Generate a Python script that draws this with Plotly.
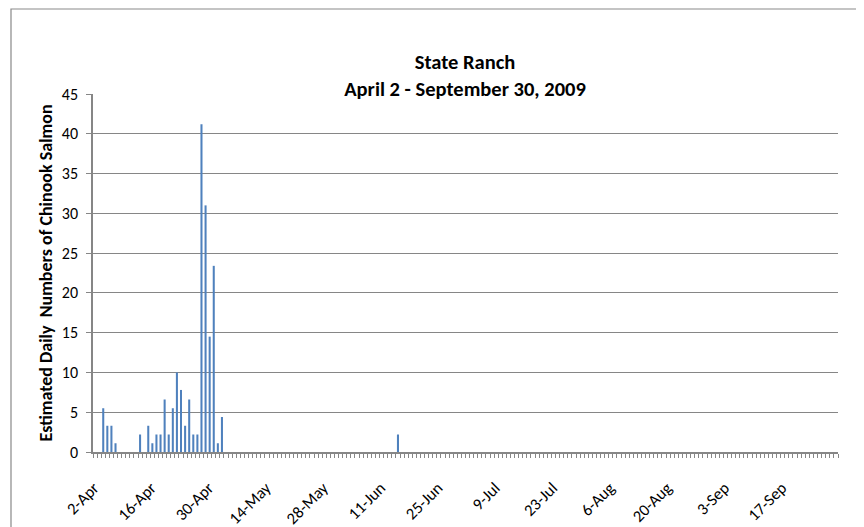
import plotly.graph_objects as go
import pandas as pd

# Data (date, estimated daily count)
dates = ["2009-04-04", "2009-04-05", "2009-04-06", "2009-04-07",
         "2009-04-13", "2009-04-15", "2009-04-16", "2009-04-17", "2009-04-18",
         "2009-04-19", "2009-04-20", "2009-04-21", "2009-04-22", "2009-04-23",
         "2009-04-24", "2009-04-25", "2009-04-26", "2009-04-27", "2009-04-28",
         "2009-04-29", "2009-04-30", "2009-05-01", "2009-05-02", "2009-05-03",
         "2009-06-15"]
counts = [5.5, 3.3, 3.3, 1.1,
          2.2, 3.3, 1.1, 2.2, 2.2,
          6.6, 2.2, 5.5, 10.0, 7.8,
          3.3, 6.6, 2.2, 2.2, 41.2,
          31.0, 14.5, 23.4, 1.1, 4.4,
          2.2]

label_dates = pd.date_range("2009-04-02", "2009-09-30", freq="14D")
label_text = [f"{d.day}-{d.strftime('%b')}" for d in label_dates]

FONT = "Carlito, Lato, sans-serif"
GRID = "#868686"
DAY_MS = 86400000

fig = go.Figure()
fig.add_trace(go.Bar(
    x=dates, y=counts,
    marker=dict(color="#4F81BD", line=dict(width=0)),
    width=0.5 * DAY_MS,
))

# The page places the figure 8px in from the window's top-left corner
OFF = 8
W, H = 864, 527
L, T = 93 - OFF, 94 - OFF
R = W - (838 - OFF)
B = H - (452 - OFF)
pw, ph = W - L - R, H - T - B

fig.update_layout(
    width=W, height=H,
    margin=dict(l=L, r=R, t=T, b=B),
    paper_bgcolor="white", plot_bgcolor="white",
    showlegend=False,
    font=dict(family=FONT, size=15, color="black"),
    title=dict(
        text="<b>State Ranch</b><br><b>April 2 - September 30, 2009</b>",
        x=(465 - OFF) / W, xref="container", xanchor="center",
        y=1 - 61 / H, yanchor="top",
        font=dict(family=FONT, size=20.5, color="black"),
    ),
    xaxis=dict(
        type="date", automargin=False,
        range=["2009-04-01 12:00", "2009-09-30 12:00"],
        tickmode="array", tickvals=list(label_dates), ticktext=label_text,
        tickangle=-45, ticks="", showgrid=False,
        showline=True, linecolor=GRID, linewidth=1.5,
        tickfont=dict(family=FONT, size=16.5),
        ticklabelstandoff=18, ticklabelshift=-1,
        minor=dict(ticks="outside", ticklen=4, tickcolor=GRID, tickwidth=1,
                   dtick=DAY_MS, tick0="2009-04-01 12:00", showgrid=False),
        zeroline=False,
    ),
    yaxis=dict(
        range=[0, 45], dtick=5, tick0=0, automargin=False,
        showgrid=True, gridcolor=GRID, gridwidth=1,
        showline=True, linecolor=GRID, linewidth=1.5,
        ticks="outside", ticklen=5, tickcolor=GRID,
        ticklabelstandoff=5,
        tickfont=dict(family=FONT, size=16),
        zeroline=False,
        title=dict(text="<b>Estimated Daily  Numbers of Chinook Salmon</b>",
                   font=dict(family=FONT, size=18), standoff=5),
    ),
)

# Outer chart border (left and top visible; cut at right/bottom)
fig.add_shape(type="rect", xref="paper", yref="paper",
              x0=(3 - L) / pw, x1=(W + 20 - L) / pw,
              y0=-(B + 20) / ph, y1=1 + (T - 1) / ph,
              line=dict(color="#898989", width=1.2), layer="below")

fig.write_html("out.html")
